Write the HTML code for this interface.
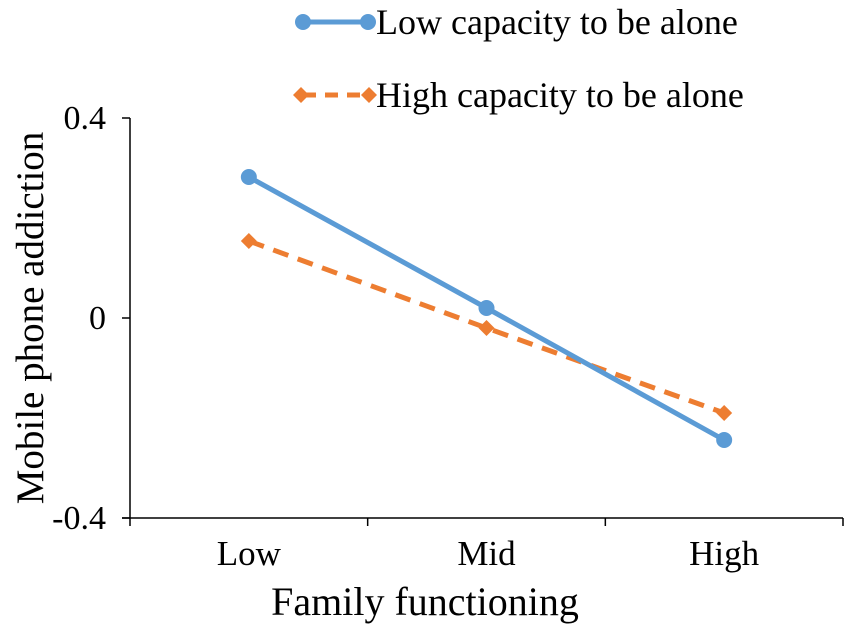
<!DOCTYPE html>
<html><head><meta charset="utf-8"><style>
body{margin:0;background:#fff}
svg{display:block;font-family:"Liberation Serif",serif}
</style></head><body>
<svg id="chart" width="851" height="631" viewBox="0 0 851 631"></svg>
<script>
const categories=["Low","Mid","High"];
const lowCapacity=[0.282,0.02,-0.244];
const highCapacity=[0.154,-0.02,-0.19];
const yTicks=[0.4,0,-0.4];
const yTickLabels=["0.4","0","-0.4"];
const NS="http://www.w3.org/2000/svg";
const svg=document.getElementById('chart');
const x0=130,x1=843,yTop=118,yBot=518;
const bw=(x1-x0)/categories.length;
function xs(i){return x0+bw*(i+0.5);}
function ys(v){return yTop+(0.4-v)/0.8*(yBot-yTop);}
function mk(tag,a){const e=document.createElementNS(NS,tag);for(const k in a)e.setAttribute(k,a[k]);svg.appendChild(e);return e;}
let e;
e=mk('line',{x1:x0,y1:yTop,x2:x0,y2:yBot,stroke:'#000','stroke-width':1.5});


e=mk('line',{x1:x0-8,y1:yBot,x2:x1,y2:yBot,stroke:'#000','stroke-width':1.5});


yTicks.forEach((v,i)=>{
 e=mk('line',{x1:x0-8,y1:ys(v),x2:x0,y2:ys(v),stroke:'#000','stroke-width':1.5});
 
 
 e=mk('text',{x:x0-24,y:ys(v)+11,'text-anchor':'end','font-size':34});
 e.textContent=yTickLabels[i];
 
 
});
for(let i=0;i<=categories.length;i++){
 e=mk('line',{x1:x0+bw*i,y1:yBot,x2:x0+bw*i,y2:yBot+8,stroke:'#000','stroke-width':1.5});
 
 
}
categories.forEach((c,i)=>{
 e=mk('text',{x:xs(i),y:yBot+47,'text-anchor':'middle','font-size':35});
 e.textContent=c;
 
 
});
e=mk('text',{x:425,y:615,'text-anchor':'middle','font-size':40});
e.textContent='Family functioning';


e=mk('text',{x:0,y:0,'text-anchor':'middle','font-size':39,transform:'translate(43,318) rotate(-90)'});
e.textContent='Mobile phone addiction';


function diamond(cx,cy,r){return `${cx},${cy-r} ${cx+r},${cy} ${cx},${cy+r} ${cx-r},${cy}`;}
e=mk('polyline',{points:highCapacity.map((v,i)=>xs(i)+','+ys(v)).join(' '),fill:'none',stroke:'#ED7D31','stroke-width':5,'stroke-dasharray':'16,10'});


highCapacity.forEach((v,i)=>{
 e=mk('polygon',{points:diamond(xs(i),ys(v),8),fill:'#ED7D31'});
 
 
});
e=mk('polyline',{points:lowCapacity.map((v,i)=>xs(i)+','+ys(v)).join(' '),fill:'none',stroke:'#5B9BD5','stroke-width':5});


lowCapacity.forEach((v,i)=>{
 e=mk('circle',{cx:xs(i),cy:ys(v),r:8,fill:'#5B9BD5'});
 
 
});
e=mk('line',{x1:303,y1:22,x2:368,y2:22,stroke:'#5B9BD5','stroke-width':5});


[303,368].forEach(cx=>{e=mk('circle',{cx:cx,cy:22,r:8,fill:'#5B9BD5'});
 
 });
e=mk('text',{x:376,y:34,'font-size':36});
e.textContent='Low capacity to be alone';


e=mk('line',{x1:303,y1:95,x2:368,y2:95,stroke:'#ED7D31','stroke-width':5,'stroke-dasharray':'13,9'});


[301,369].forEach(cx=>{e=mk('polygon',{points:diamond(cx,95,8),fill:'#ED7D31'});
 
 });
e=mk('text',{x:376,y:107,'font-size':36});
e.textContent='High capacity to be alone';


</script>
</body></html>
